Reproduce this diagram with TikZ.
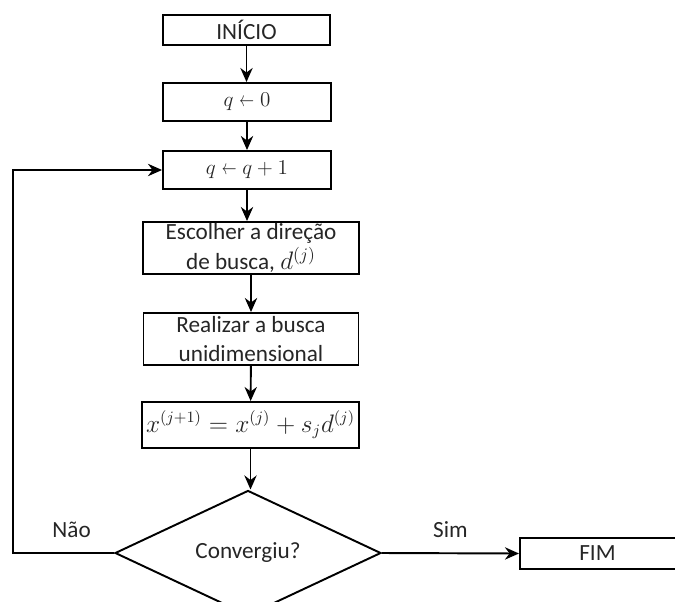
\documentclass[tikz,border=0pt]{standalone}
\usepackage{fontspec}
\setmainfont{Carlito}
\usetikzlibrary{shapes.geometric,arrows.meta}

\tikzset{
  caixa/.style={draw, line width=1.1pt, inner sep=0pt, align=center,
    text=black!85, font=\fontsize{13.2}{15}\selectfont},
  decisao/.style={draw, diamond, line width=1.1pt, inner sep=0pt,
    text=black!85, font=\fontsize{13.2}{15}\selectfont},
  seta/.style={line width=1.1pt, -{Stealth[length=8pt,width=7pt]}},
  rotulo/.style={text=black!85, font=\fontsize{13.2}{15}\selectfont},
}

\begin{document}
\begin{tikzpicture}[x=0.02cm,y=-0.02cm]
  \useasboundingbox (0,0) rectangle (675,601);
  \clip (0,0) rectangle (675,601);

  % caixas do fluxograma
  \node[caixa, minimum width=3.34cm, minimum height=0.6cm] (inicio) at (246.5,30) {INÍCIO};
  \node[caixa, minimum width=3.36cm, minimum height=0.76cm] (zera) at (247,102)
    {\fontsize{12.5}{14}\selectfont$q \mathrel{\scalebox{0.7}[1]{$\leftarrow$}} 0$};
  \node[caixa, minimum width=3.36cm, minimum height=0.76cm] (incr) at (247,170)
    {\fontsize{12.5}{14}\selectfont$q \mathrel{\scalebox{0.7}[1]{$\leftarrow$}} q + 1$};
  \node[caixa, minimum width=4.32cm, minimum height=1.04cm] (escolha) at (251,248)
    {Escolher a direção\\[2.5pt]de busca, {\fontsize{14}{14}\selectfont$d^{(j)}$}};
  \node[caixa, minimum width=4.3cm, minimum height=1.04cm] (busca) at (251,339)
    {Realizar a busca\\[1pt]unidimensional};
  \node[caixa, minimum width=4.34cm, minimum height=0.92cm] (atualiza) at (250.5,425)
    {\fontsize{13.5}{15}\selectfont$x^{(j+1)} = x^{(j)} + s_j d^{(j)}$};
  \node[decisao, minimum width=5.32cm, minimum height=2.28cm] (conv) at (248,553) {Convergiu?};
  \node[caixa, minimum width=3.2cm, minimum height=0.62cm, anchor=west] (fim) at (519,553.5) {\hspace*{-0.1cm}FIM};

  \coordinate (volta) at (13,553);

  % ligacoes
  \draw[seta] (inicio.south) -- (inicio.south |- zera.north);
  \draw[seta] (zera.south) -- (zera.south |- incr.north);
  \draw[seta] (incr.south) -- (incr.south |- escolha.north);
  \draw[seta] (escolha) -- (busca);
  \draw[seta] (busca) -- (atualiza);
  \draw[seta] (atualiza.south) -- (atualiza.south |- conv.north);
  \draw[seta] (conv.east) -- node[rotulo, above=5pt] {Sim} (fim.west);
  \draw[seta] (conv.west) -- node[rotulo, above=5pt, pos=0.42] {Não} (volta) |- (incr.west);

\end{tikzpicture}
\end{document}
